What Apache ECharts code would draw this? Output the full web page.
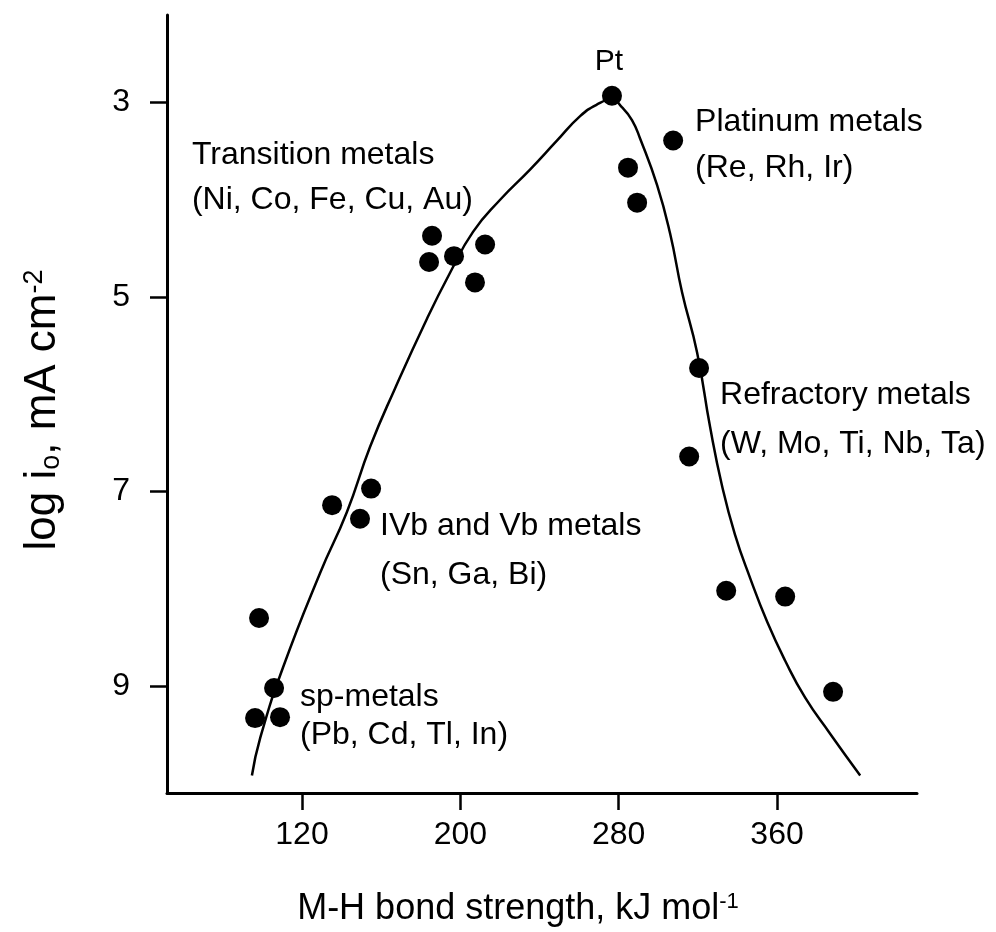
<!DOCTYPE html>
<html><head><meta charset="utf-8">
<script src="https://cdn.jsdelivr.net/npm/echarts@6/dist/echarts.min.js"></script>
<style>html,body{margin:0;padding:0;background:#fff}#c{width:996px;height:932px}</style>
</head><body><div id="c"></div>
<script>
// Tick values
const xTicks = [120, 200, 280, 360];
const yTicks = [3, 5, 7, 9];
// Data points [M-H bond strength, log i0]
const transitionMetals = [[185.7, 4.37], [184.2, 4.64], [196.8, 4.58], [212.5, 4.46], [207.4, 4.85]];
const platinumMetals = [[276.6, 2.93], [307.5, 3.39], [284.7, 3.67], [289.3, 4.03]];
const ivbVbMetals = [[135.2, 7.14], [154.9, 6.97], [149.3, 7.28]];
const spMetals = [[98.3, 8.30], [105.9, 9.02], [96.3, 9.33], [108.9, 9.32]];
const refractoryMetals = [[320.6, 5.73], [315.6, 6.64], [334.3, 8.02], [364.1, 8.08], [388.3, 9.06]];
// Volcano curve
const curve = [
  [94.7, 9.92], [98.8, 9.54], [110.4, 8.81], [129.1, 7.84], [142.7, 7.21], [154.4, 6.54],
  [167.0, 5.94], [183.2, 5.22], [194.8, 4.75], [206.4, 4.33], [220.1, 4.00], [235.2, 3.69],
  [248.9, 3.39], [260.5, 3.14], [269.1, 3.02], [276.6, 2.97], [281.7, 3.05], [286.7, 3.18],
  [290.8, 3.37], [299.4, 3.85], [306.0, 4.35], [312.0, 4.95], [319.6, 5.57], [326.2, 6.34],
  [332.2, 6.94], [338.7, 7.44], [346.4, 7.89], [355.0, 8.34], [364.1, 8.74], [374.2, 9.12],
  [386.8, 9.49], [402.0, 9.92]
];
// Annotations [x, y, text]
const notes = [
  [64.4, 3.54, 'Transition metals'],
  [64.4, 4.00, '(Ni, Co, Fe, Cu, Au)'],
  [318.6, 3.20, 'Platinum metals'],
  [318.6, 3.67, '(Re, Rh, Ir)'],
  [331.2, 6.01, 'Refractory metals'],
  [331.2, 6.51, '(W, Mo, Ti, Nb, Ta)'],
  [159.4, 7.36, 'IVb and Vb metals'],
  [159.4, 7.86, '(Sn, Ga, Bi)'],
  [119.0, 9.11, 'sp-metals'],
  [119.0, 9.51, '(Pb, Cd, Tl, In)']
];
const peakNote = [[275.1, 2.58, 'Pt']];

const FONT = "'Liberation Sans', Arial, sans-serif";
const chart = echarts.init(document.getElementById('c'), null, {renderer: 'canvas'});
function dots(name, data) {
  return {type: 'scatter', name, data, symbol: 'circle', symbolSize: 20,
    itemStyle: {color: '#000', opacity: 1}, silent: true, z: 3};
}
function noteSeries(name, arr, align, size) {
  return {type: 'scatter', name, symbolSize: 0, silent: true, z: 4,
    itemStyle: {color: '#000', opacity: 1},
    data: arr.map(n => ({value: [n[0], n[1]], name: n[2]})),
    label: {show: true, position: [0, 0], align, verticalAlign: 'middle', formatter: p => p.name,
      color: '#000', opacity: 1, fontSize: size, fontFamily: FONT}};
}
chart.setOption({
  animation: false,
  backgroundColor: '#fff',
  grid: {left: 167, right: 79, top: 15, bottom: 116, containLabel: false},
  xAxis: {
    type: 'value', min: 51.8, max: 430.7,
    splitLine: {show: false},
    axisLine: {lineStyle: {color: '#000', width: 3}},
    axisTick: {show: true, length: 17, lineStyle: {color: '#000', width: 2.5}, customValues: xTicks},
    axisLabel: {color: '#000', fontSize: 32, fontFamily: FONT, margin: 26, customValues: xTicks},
    name: 'M-H bond strength, kJ mol{sup|-1}',
    nameLocation: 'middle', nameGap: 98,
    nameTextStyle: {color: '#000', fontSize: 36, fontFamily: FONT, padding: [0, 48, 0, 0],
      rich: {sup: {fontSize: 22, fontFamily: FONT, color: '#000', verticalAlign: 'top', padding: [0, 0, 14, 0]}}}
  },
  yAxis: {
    type: 'value', min: 2.1, max: 10.1, inverse: true,
    splitLine: {show: false},
    axisLine: {lineStyle: {color: '#000', width: 3}},
    axisTick: {show: true, length: 17, lineStyle: {color: '#000', width: 2.5}, customValues: yTicks},
    axisLabel: {color: '#000', fontSize: 32, fontFamily: FONT, margin: 37, customValues: yTicks},
    name: 'log i{sub|o}, mA cm{sup|-2}',
    nameLocation: 'middle', nameGap: 102, nameRotate: 90,
    nameTextStyle: {color: '#000', fontSize: 44, fontFamily: FONT, padding: [0, 12, 0, 0],
      rich: {
        sub: {fontSize: 27, fontFamily: FONT, color: '#000', verticalAlign: 'bottom', padding: [12, 0, 0, 0]},
        sup: {fontSize: 27, fontFamily: FONT, color: '#000', verticalAlign: 'top', padding: [0, 0, 16, 0]}
      }}
  },
  series: [
    {type: 'line', name: 'volcano', data: curve, smooth: 0.5, showSymbol: false, symbol: 'none',
      lineStyle: {color: '#000', width: 2.5}, silent: true, z: 2},
    dots('Transition metals', transitionMetals),
    dots('Platinum metals', platinumMetals),
    dots('IVb and Vb metals', ivbVbMetals),
    dots('sp-metals', spMetals),
    dots('Refractory metals', refractoryMetals),
    noteSeries('notes', notes, 'left', 32),
    noteSeries('peak', peakNote, 'center', 30)
  ]
});
</script></body></html>
